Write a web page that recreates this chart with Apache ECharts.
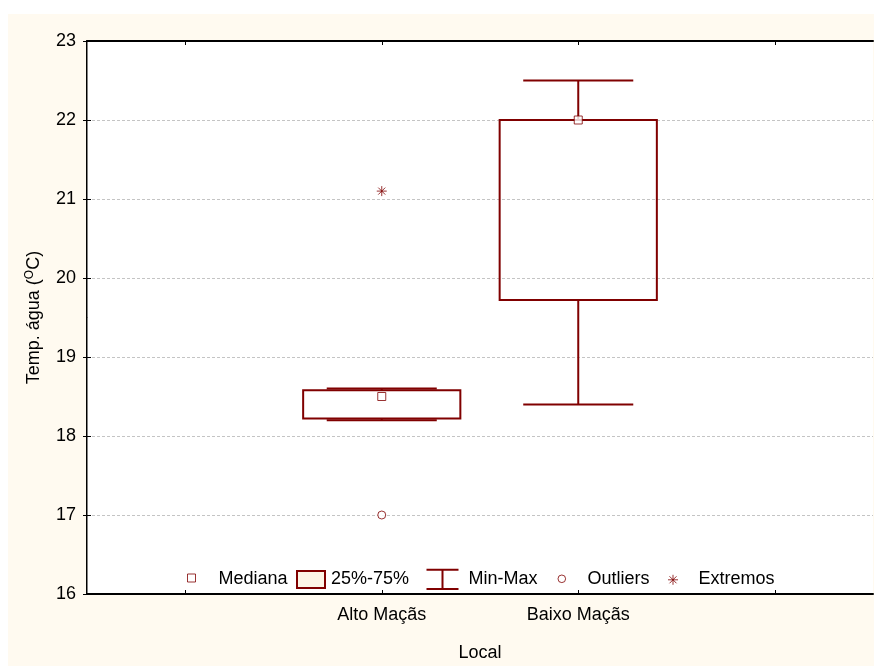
<!DOCTYPE html>
<html>
<head>
<meta charset="utf-8">
<script src="https://cdn.jsdelivr.net/npm/echarts@6/dist/echarts.min.js"></script>
<style>
  html, body { margin: 0; padding: 0; background: #ffffff; }
  #chart { position: absolute; left: 8px; top: 14px; width: 866px; height: 652px; background: #fffaf0; }
</style>
</head>
<body>
<div id="chart"></div>
<script>
// Water temperature by site: quartile boxes, min-max whiskers, outliers and extremes
const categories = ['Alto Maçãs', 'Baixo Maçãs'];
const lowerQuartiles = [18.22, 19.72];
const upperQuartiles = [18.58, 22.0];
const minValues = [18.2, 18.4];
const maxValues = [18.6, 22.5];
const medians = [18.5, 22.0];
const outlierCategories = [0];
const outlierValues = [17.0];
const extremeCategories = [0];
const extremeValues = [21.1];
const yRange = [16, 23];
const yStep = 1;

const MAROON = '#800000';
const FONT = '"Liberation Sans", Arial, sans-serif';
const SLOT_OFFSET = 1.5;      // category i sits at x = i + 1.5 on a 0..4 axis
const BOX_HALF = 0.4;
const CAP_HALF = 0.28;
const tickSlots = [0.5, 1.5, 2.5, 3.5];
const labelSlots = categories.map((c, i) => i + SLOT_OFFSET);

const slot = i => i + SLOT_OFFSET;

const boxData = categories.map((c, i) => [slot(i), lowerQuartiles[i], upperQuartiles[i]]);
const whiskerData = categories.map((c, i) => [slot(i), minValues[i], lowerQuartiles[i], upperQuartiles[i], maxValues[i]]);
const medianData = categories.map((c, i) => [slot(i), medians[i]]);
const outlierData = outlierCategories.map((ci, k) => [slot(ci), outlierValues[k]]);
const extremeData = extremeCategories.map((ci, k) => [slot(ci), extremeValues[k]]);

const ASTERISK = 'path://M5,0V10M0,5H10M1.5,1.5L8.5,8.5M1.5,8.5L8.5,1.5';

function renderBox(params, api) {
  const x = api.value(0);
  const tl = api.coord([x - BOX_HALF, api.value(2)]);
  const br = api.coord([x + BOX_HALF, api.value(1)]);
  return {
    type: 'rect',
    shape: { x: tl[0], y: tl[1], width: br[0] - tl[0], height: br[1] - tl[1] },
    style: { fill: 'none', stroke: MAROON, lineWidth: 2 }
  };
}

function renderWhisker(params, api) {
  const x = api.value(0);
  const lo = api.coord([x, api.value(1)]);
  const q1 = api.coord([x, api.value(2)]);
  const q3 = api.coord([x, api.value(3)]);
  const hi = api.coord([x, api.value(4)]);
  const l = api.coord([x - CAP_HALF, api.value(1)])[0];
  const r = api.coord([x + CAP_HALF, api.value(1)])[0];
  const st = { stroke: MAROON, lineWidth: 2 };
  return {
    type: 'group',
    children: [
      { type: 'line', shape: { x1: hi[0], y1: hi[1], x2: q3[0], y2: q3[1] }, style: st },
      { type: 'line', shape: { x1: q1[0], y1: q1[1], x2: lo[0], y2: lo[1] }, style: st },
      { type: 'line', shape: { x1: l, y1: hi[1], x2: r, y2: hi[1] }, style: st },
      { type: 'line', shape: { x1: l, y1: lo[1], x2: r, y2: lo[1] }, style: st }
    ]
  };
}

// legend entries: each has its own icon drawn inside a 54x24 frame
const LEG_W = 54, LEG_H = 24;
const legendTextStyle = { fontSize: 18, color: '#000', fontFamily: FONT };
function legendEntry(name, left, top, iconPath, itemStyle) {
  return {
    left: left, top: top, padding: 0,
    itemWidth: LEG_W, itemHeight: LEG_H,
    selectedMode: false,
    textStyle: legendTextStyle,
    data: [{ name: name, icon: 'path://M0,0M54,24' + iconPath, itemStyle: itemStyle }]
  };
}

const chart = echarts.init(document.getElementById('chart'), null, { renderer: 'canvas' });

chart.setOption({
  animation: false,
  backgroundColor: 'transparent',
  grid: {
    left: 79, top: 27, right: 1, bottom: 72,
    show: true, backgroundColor: '#ffffff', borderWidth: 0,
    outerBoundsMode: 'none'
  },
  legend: [
    legendEntry('Mediana', 151, 552.5, 'M28,7H36V15H28Z',
      { color: '#ffffff', borderColor: MAROON, borderWidth: 1 }),
    legendEntry('25%-75%', 263, 552, 'M25,4H53V21H25Z',
      { color: '#fdf5e6', borderColor: MAROON, borderWidth: 2 }),
    legendEntry('Min-Max', 399, 550.5, 'M17,2.7H49M33,2.7V22M17,22H49',
      { color: 'none', borderColor: MAROON, borderWidth: 2 }),
    legendEntry('Outliers', 520, 552.5, 'M29.5,11.8A3.8,3.8 0 1 1 37.1,11.8A3.8,3.8 0 1 1 29.5,11.8Z',
      { color: '#ffffff', borderColor: MAROON, borderWidth: 1 }),
    legendEntry('Extremos', 629, 550.5, 'M33.5,7.8V17.8M28.5,12.8H38.5M30,9.3L37,16.3M30,16.3L37,9.3',
      { color: 'none', borderColor: MAROON, borderWidth: 1 })
  ],
  xAxis: [
    {
      type: 'value', position: 'bottom', min: 0, max: 4,
      name: 'Local', nameLocation: 'middle', nameGap: 50,
      nameTextStyle: { fontSize: 18, color: '#000', fontFamily: FONT },
      axisLine: { show: true, lineStyle: { color: '#000', width: 2 } },
      axisTick: { show: true, inside: true, length: 4, customValues: tickSlots, lineStyle: { color: '#000', width: 1 } },
      axisLabel: {
        show: true, customValues: labelSlots, margin: 12,
        fontSize: 18, color: '#000', fontFamily: FONT,
        formatter: v => categories[Math.round(v - SLOT_OFFSET)] || ''
      },
      splitLine: { show: false }
    },
    {
      type: 'value', position: 'top', min: 0, max: 4,
      axisLine: { show: true, lineStyle: { color: '#000', width: 2 } },
      axisTick: { show: true, inside: true, length: 4, customValues: tickSlots, lineStyle: { color: '#000', width: 1 } },
      axisLabel: { show: false },
      splitLine: { show: false }
    }
  ],
  yAxis: [
    {
      type: 'value', position: 'left', min: yRange[0], max: yRange[1], interval: yStep,
      name: '{n|Temp. água (}{s|O}{n|C)}', nameLocation: 'middle', nameRotate: 90, nameGap: 43,
      nameTextStyle: {
        color: '#000', fontFamily: FONT,
        rich: {
          n: { fontSize: 18, color: '#000', fontFamily: FONT },
          s: { fontSize: 12, color: '#000', fontFamily: FONT, verticalAlign: 'top', padding: [0, 0, 8, 0] }
        }
      },
      axisLine: { show: true, lineStyle: { color: '#000', width: 2 } },
      axisTick: { show: true, inside: true, length: 4, lineStyle: { color: '#000', width: 1 } },
      axisLabel: { margin: 11, fontSize: 18, color: '#000', fontFamily: FONT },
      splitLine: { show: true, lineStyle: { color: '#c4c4c4', width: 1, type: [3, 2] } }
    },
    {
      type: 'value', position: 'right', min: yRange[0], max: yRange[1], interval: yStep,
      axisLine: { show: true, lineStyle: { color: '#808080', width: 1 } },
      axisTick: { show: true, inside: true, length: 4, lineStyle: { color: '#000', width: 1 } },
      axisLabel: { show: false },
      splitLine: { show: false }
    }
  ],
  series: [
    {
      name: '25%-75%', type: 'custom', renderItem: renderBox,
      data: boxData, encode: { x: 0, y: [1, 2] }, z: 3, silent: true
    },
    {
      name: 'Min-Max', type: 'custom', renderItem: renderWhisker,
      data: whiskerData, encode: { x: 0, y: [1, 2, 3, 4] }, z: 3, silent: true
    },
    {
      name: 'Mediana', type: 'scatter', data: medianData,
      symbol: 'rect', symbolSize: 8, z: 5, silent: true,
      itemStyle: { color: '#ffffff', borderColor: MAROON, borderWidth: 1 }
    },
    {
      name: 'Outliers', type: 'scatter', data: outlierData,
      symbol: 'circle', symbolSize: 8, z: 5, silent: true,
      itemStyle: { color: '#ffffff', borderColor: MAROON, borderWidth: 1 }
    },
    {
      name: 'Extremos', type: 'scatter', data: extremeData,
      symbol: ASTERISK, symbolSize: 10, z: 5, silent: true,
      itemStyle: { color: 'none', borderColor: MAROON, borderWidth: 1 }
    }
  ]
});
</script>
</body>
</html>
